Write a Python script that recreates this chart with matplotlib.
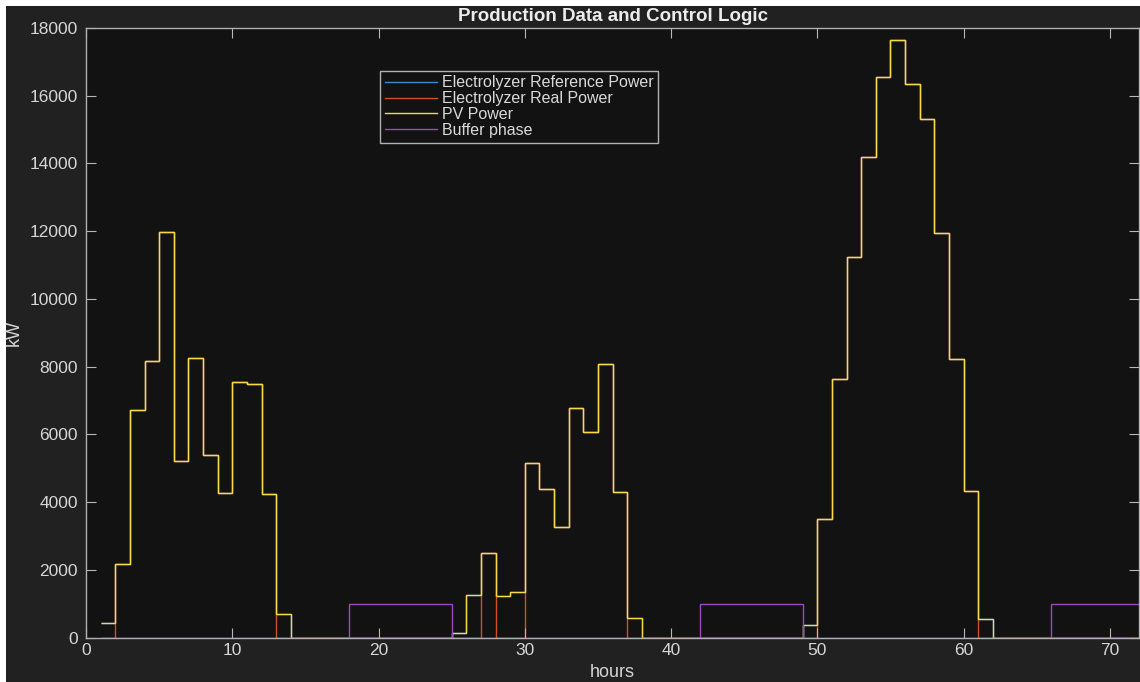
import numpy as np
import matplotlib.pyplot as plt
from matplotlib.patches import Rectangle

plt.rcParams['font.family'] = ['Liberation Sans', 'DejaVu Sans']

# hourly data, value i holds for [hour i, hour i+1)
hours = np.arange(1, 74)

pv_power = [420, 2160, 6710, 8180, 11980, 5225, 8255, 5380, 4280, 7555, 7495, 4230, 690,
            0, 0, 0, 0, 0, 0, 0, 0, 0, 0, 0,
            120, 1265, 2495, 1225, 1350, 5165, 4395, 3275, 6790, 6060, 8070, 4310, 565,
            0, 0, 0, 0, 0, 0, 0, 0, 0, 0, 0,
            365, 3510, 7645, 11250, 14205, 16540, 17650, 16360, 15300, 11945, 8215, 4335, 540,
            0, 0, 0, 0, 0, 0, 0, 0, 0, 0, 0]

ref_power = [420, 2160, 6710, 8180, 11980, 5225, 8255, 5380, 4280, 7555, 7495, 4230, 690,
             0, 0, 0, 0, 0, 0, 0, 0, 0, 0, 0,
             120, 1265, 2495, 1225, 1350, 5165, 4395, 3275, 6790, 6060, 8070, 4310, 565,
             0, 0, 0, 0, 0, 0, 0, 0, 0, 0, 0,
             365, 3510, 7645, 11250, 14205, 16540, 17650, 16360, 15300, 11945, 8215, 4335, 540,
             0, 0, 0, 0, 0, 0, 0, 0, 0, 0, 0]

real_power = [0, 2160, 6710, 8180, 11980, 5225, 8255, 5380, 4280, 7555, 7495, 4230, 0,
              0, 0, 0, 0, 0, 0, 0, 0, 0, 0, 0,
              0, 0, 2495, 0, 0, 5165, 4395, 3275, 6790, 6060, 8070, 4310, 0,
              0, 0, 0, 0, 0, 0, 0, 0, 0, 0, 0,
              0, 3510, 7645, 11250, 14205, 16540, 17650, 16360, 15300, 11945, 8215, 4335, 0,
              0, 0, 0, 0, 0, 0, 0, 0, 0, 0, 0]

buffer_phase = [0] * 17 + [1000] * 7 + [0] * 17 + [1000] * 7 + [0] * 17 + [1000] * 7

fig = plt.figure(figsize=(11.4, 6.82), dpi=100, facecolor='white')
fig.patches.append(Rectangle((6 / 1140, 0), 1, (682 - 6) / 682, transform=fig.transFigure,
                             facecolor='#212121', edgecolor='none', zorder=-10))

ax = fig.add_axes([86 / 1140, (682 - 637.5) / 682, (1139 - 86) / 1140, (637.5 - 28) / 682])
ax.set_facecolor('#121212')

ax.stairs(ref_power, hours, baseline=None, color='#3c8bd0', linewidth=1.0, label='Electrolyzer Reference Power')
ax.stairs(real_power, hours, baseline=None, color='#d0521e', linewidth=1.0, label='Electrolyzer Real Power')
ax.stairs(pv_power, hours, baseline=None, color='#f7da4a', linewidth=1.0, label='PV Power')
ax.stairs(buffer_phase, hours, baseline=None, color='#9a48c4', linewidth=1.0, label='Buffer phase')

ax.set_xlim(0, 72)
ax.set_ylim(0, 18000)
ax.set_xticks(range(0, 71, 10))
ax.set_yticks(range(0, 18001, 2000))

ax.tick_params(direction='in', length=7.5, width=0.8, colors='#b8b8b8', labelcolor='#d6d6d6',
               labelsize=12.5, top=True, right=True)
ax.tick_params(axis='y', pad=6)
ax.tick_params(axis='x', pad=4)
for s in ax.spines.values():
    s.set_color('#b0b0b0')
    s.set_linewidth(1.0)

ax.set_title('Production Data and Control Logic', color='#ececec', fontsize=13.5, fontweight='bold', pad=5)
ax.set_xlabel('hours', color='#d6d6d6', fontsize=13, labelpad=4)
ax.set_ylabel('kW', color='#d6d6d6', fontsize=13, labelpad=5)

leg = ax.legend(loc='upper left', bbox_to_anchor=(0.279, 0.93), fontsize=11.5, frameon=True,
                fancybox=False, facecolor='#121212', edgecolor='#b0b0b0', framealpha=1,
                handlelength=3.3, handletextpad=0.3, labelspacing=0.05, borderpad=0.3,
                borderaxespad=0)
leg.get_frame().set_linewidth(1.0)
for t in leg.get_texts():
    t.set_color('#d9d9d9')

fig.savefig('out.png', dpi=100, facecolor=fig.get_facecolor())
